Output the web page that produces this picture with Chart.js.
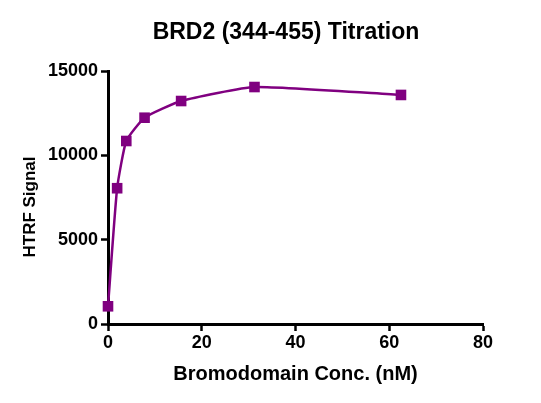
<!DOCTYPE html>
<html>
<head>
<meta charset="utf-8">
<script src="https://cdn.jsdelivr.net/npm/chart.js@4/dist/chart.umd.min.js"></script>
<style>
  html, body { margin: 0; padding: 0; background: #fff; }
  #wrap { width: 541px; height: 403px; }
</style>
</head>
<body>
<div id="wrap"><canvas id="c" width="541" height="403"></canvas></div>
<script>
// BRD2 titration data
const concNM = [0, 1.95, 3.9, 7.8, 15.6, 31.25, 62.5]
const htrfSignal = [1050, 8050, 10850, 12230, 13220, 14050, 13580]
const xTicks = [0, 20, 40, 60, 80]
const yTicks = [0, 5000, 10000, 15000]
const chartTitle = 'BRD2 (344-455) Titration'
const yTitle = 'HTRF Signal'

const purple = '#800080'
const FONT = 'Arial, "Liberation Sans", sans-serif'

const canvas = document.getElementById('c')
const ctx = canvas.getContext('2d')

// title and y label sit a little off centre in the original, so draw them by hand
const titlePlugin = {
  id: 'plainTitles',
  afterDraw(chart) {
    const c = chart.ctx
    c.save()
    c.fillStyle = '#000'
    c.font = `bold 23px ${FONT}`
    c.textAlign = 'center'
    c.textBaseline = 'middle'
    c.fillText(chartTitle, 286, 33)

    c.translate(35, 207)
    c.rotate(-Math.PI / 2)
    c.font = `bold 17px ${FONT}`
    c.textBaseline = 'alphabetic'
    c.fillText(yTitle, 0, 0)
    c.restore()
  },
}

const axisStyle = {
  grid: {
    display: true,
    drawOnChartArea: false,
    drawTicks: true,
    tickLength: 7,
    tickWidth: 2.5,
    tickColor: '#000',
  },
  border: { display: true, color: '#000', width: 3 },
}

new Chart(ctx, {
  type: 'line',
  data: {
    datasets: [{
      data: concNM.map((x, i) => ({ x, y: htrfSignal[i] })),
      borderColor: purple,
      backgroundColor: purple,
      borderWidth: 2.5,
      tension: 0.15,
      pointStyle: 'rect',
      pointRadius: 7.5,
      pointBorderWidth: 0,
      pointBackgroundColor: purple,
      clip: false,
    }],
  },
  options: {
    responsive: false,
    animation: false,
    layout: { padding: { left: 26.6, right: 58, top: 71, bottom: 16.6 } },
    plugins: {
      legend: { display: false },
      tooltip: { enabled: false },
      title: { display: false },
    },
    scales: {
      x: {
        type: 'linear',
        min: 0,
        max: 80,
        afterBuildTicks: (scale) => { scale.ticks = xTicks.map((v) => ({ value: v })) },
        afterFit: (scale) => { scale.height = 62.4 },
        ticks: {
          color: '#000',
          padding: 1,
          font: { family: FONT, size: 18, weight: 'bold' },
        },
        title: {
          display: true,
          text: 'Bromodomain Conc. (nM)',
          color: '#000',
          font: { family: FONT, size: 20, weight: 'bold' },
          padding: { top: 0, bottom: 0 },
        },
        ...axisStyle,
      },
      y: {
        type: 'linear',
        min: 0,
        max: 15000,
        afterBuildTicks: (scale) => { scale.ticks = yTicks.map((v) => ({ value: v })) },
        afterFit: (scale) => { scale.width = 81.4 },
        ticks: {
          color: '#000',
          padding: 3,
          font: { family: FONT, size: 18, weight: 'bold' },
          callback: (v) => String(v),
        },
        title: { display: false },
        ...axisStyle,
      },
    },
  },
  plugins: [titlePlugin],
})
</script>
</body>
</html>
